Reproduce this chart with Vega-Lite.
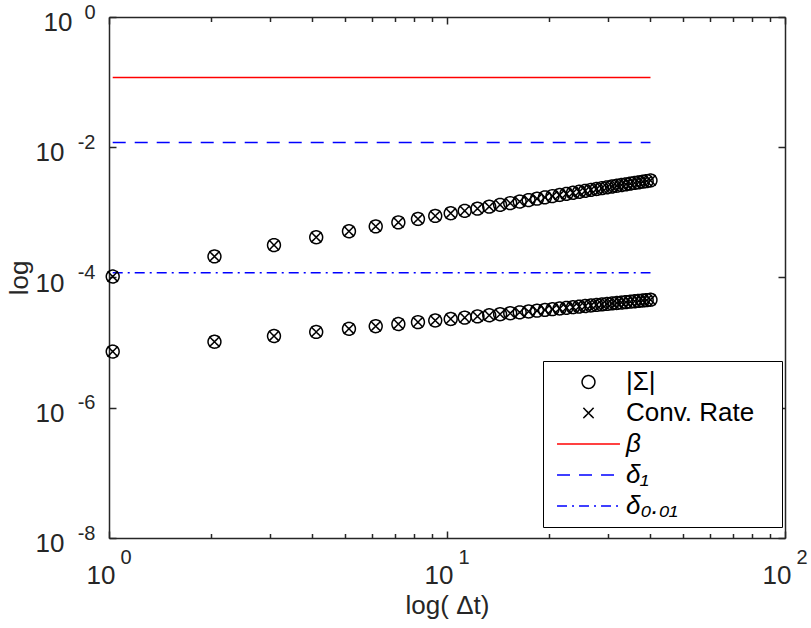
{
  "$schema": "https://vega.github.io/schema/vega-lite/v6.json",
  "width": 676,
  "height": 521,
  "autosize": {"type": "none"},
  "padding": {"left": 109, "top": 17, "right": 26, "bottom": 90},
  "background": "white",
  "config": {
    "view": {"stroke": null},
    "font": "Liberation Sans",
    "axis": {"grid": false, "labelFont": "Liberation Sans", "titleFont": "Liberation Sans", "labelColor": "#262626", "titleColor": "#262626", "domainColor": "#262626", "tickColor": "#262626", "domainWidth": 1.5, "tickWidth": 1.5, "labelFlush": false, "labelOverlap": false, "labelBound": false, "titleFontWeight": "normal"}
  },
  "datasets": {
    "lines": [
      {"x": 1.0256, "y": 0.118, "leg": "β"},
      {"x": 40.0, "y": 0.118, "leg": "β"},
      {"x": 1.0256, "y": 0.0118, "leg": "δ₁"},
      {"x": 40.0, "y": 0.0118, "leg": "δ₁"},
      {"x": 1.0256, "y": 0.000118, "leg": "δ₀.₀₁"},
      {"x": 40.0, "y": 0.000118, "leg": "δ₀.₀₁"}
    ],
    "pts": [
      {"x": 1.0256, "y": 0.0001035, "leg": ["|Σ|", "Conv. Rate"]},
      {"x": 2.0513, "y": 0.0002105, "leg": ["|Σ|", "Conv. Rate"]},
      {"x": 3.0769, "y": 0.0003143, "leg": ["|Σ|", "Conv. Rate"]},
      {"x": 4.1026, "y": 0.0004150, "leg": ["|Σ|", "Conv. Rate"]},
      {"x": 5.1282, "y": 0.0005128, "leg": ["|Σ|", "Conv. Rate"]},
      {"x": 6.1538, "y": 0.0006083, "leg": ["|Σ|", "Conv. Rate"]},
      {"x": 7.1795, "y": 0.0007015, "leg": ["|Σ|", "Conv. Rate"]},
      {"x": 8.2051, "y": 0.0007925, "leg": ["|Σ|", "Conv. Rate"]},
      {"x": 9.2308, "y": 0.0008819, "leg": ["|Σ|", "Conv. Rate"]},
      {"x": 10.256, "y": 0.0009696, "leg": ["|Σ|", "Conv. Rate"]},
      {"x": 11.282, "y": 0.0010558, "leg": ["|Σ|", "Conv. Rate"]},
      {"x": 12.308, "y": 0.0011404, "leg": ["|Σ|", "Conv. Rate"]},
      {"x": 13.333, "y": 0.0012238, "leg": ["|Σ|", "Conv. Rate"]},
      {"x": 14.359, "y": 0.0013058, "leg": ["|Σ|", "Conv. Rate"]},
      {"x": 15.385, "y": 0.0013870, "leg": ["|Σ|", "Conv. Rate"]},
      {"x": 16.410, "y": 0.0014668, "leg": ["|Σ|", "Conv. Rate"]},
      {"x": 17.436, "y": 0.0015456, "leg": ["|Σ|", "Conv. Rate"]},
      {"x": 18.462, "y": 0.0016234, "leg": ["|Σ|", "Conv. Rate"]},
      {"x": 19.487, "y": 0.0017003, "leg": ["|Σ|", "Conv. Rate"]},
      {"x": 20.513, "y": 0.0017763, "leg": ["|Σ|", "Conv. Rate"]},
      {"x": 21.538, "y": 0.0018515, "leg": ["|Σ|", "Conv. Rate"]},
      {"x": 22.564, "y": 0.0019259, "leg": ["|Σ|", "Conv. Rate"]},
      {"x": 23.590, "y": 0.0019995, "leg": ["|Σ|", "Conv. Rate"]},
      {"x": 24.615, "y": 0.0020723, "leg": ["|Σ|", "Conv. Rate"]},
      {"x": 25.641, "y": 0.0021444, "leg": ["|Σ|", "Conv. Rate"]},
      {"x": 26.667, "y": 0.0022157, "leg": ["|Σ|", "Conv. Rate"]},
      {"x": 27.692, "y": 0.0022865, "leg": ["|Σ|", "Conv. Rate"]},
      {"x": 28.718, "y": 0.0023566, "leg": ["|Σ|", "Conv. Rate"]},
      {"x": 29.744, "y": 0.0024260, "leg": ["|Σ|", "Conv. Rate"]},
      {"x": 30.769, "y": 0.0024949, "leg": ["|Σ|", "Conv. Rate"]},
      {"x": 31.795, "y": 0.0025631, "leg": ["|Σ|", "Conv. Rate"]},
      {"x": 32.821, "y": 0.0026308, "leg": ["|Σ|", "Conv. Rate"]},
      {"x": 33.846, "y": 0.0026978, "leg": ["|Σ|", "Conv. Rate"]},
      {"x": 34.872, "y": 0.0027644, "leg": ["|Σ|", "Conv. Rate"]},
      {"x": 35.897, "y": 0.0028305, "leg": ["|Σ|", "Conv. Rate"]},
      {"x": 36.923, "y": 0.0028961, "leg": ["|Σ|", "Conv. Rate"]},
      {"x": 37.949, "y": 0.0029612, "leg": ["|Σ|", "Conv. Rate"]},
      {"x": 38.974, "y": 0.0030258, "leg": ["|Σ|", "Conv. Rate"]},
      {"x": 40.0, "y": 0.0030900, "leg": ["|Σ|", "Conv. Rate"]},
      {"x": 1.0256, "y": 0.000007295, "leg": ["|Σ|", "Conv. Rate"]},
      {"x": 2.0513, "y": 0.000010317, "leg": ["|Σ|", "Conv. Rate"]},
      {"x": 3.0769, "y": 0.000012635, "leg": ["|Σ|", "Conv. Rate"]},
      {"x": 4.1026, "y": 0.000014590, "leg": ["|Σ|", "Conv. Rate"]},
      {"x": 5.1282, "y": 0.000016312, "leg": ["|Σ|", "Conv. Rate"]},
      {"x": 6.1538, "y": 0.000017869, "leg": ["|Σ|", "Conv. Rate"]},
      {"x": 7.1795, "y": 0.000019301, "leg": ["|Σ|", "Conv. Rate"]},
      {"x": 8.2051, "y": 0.000020633, "leg": ["|Σ|", "Conv. Rate"]},
      {"x": 9.2308, "y": 0.000021885, "leg": ["|Σ|", "Conv. Rate"]},
      {"x": 10.256, "y": 0.000023069, "leg": ["|Σ|", "Conv. Rate"]},
      {"x": 11.282, "y": 0.000024195, "leg": ["|Σ|", "Conv. Rate"]},
      {"x": 12.308, "y": 0.000025271, "leg": ["|Σ|", "Conv. Rate"]},
      {"x": 13.333, "y": 0.000026302, "leg": ["|Σ|", "Conv. Rate"]},
      {"x": 14.359, "y": 0.000027295, "leg": ["|Σ|", "Conv. Rate"]},
      {"x": 15.385, "y": 0.000028253, "leg": ["|Σ|", "Conv. Rate"]},
      {"x": 16.410, "y": 0.000029180, "leg": ["|Σ|", "Conv. Rate"]},
      {"x": 17.436, "y": 0.000030078, "leg": ["|Σ|", "Conv. Rate"]},
      {"x": 18.462, "y": 0.000030950, "leg": ["|Σ|", "Conv. Rate"]},
      {"x": 19.487, "y": 0.000031798, "leg": ["|Σ|", "Conv. Rate"]},
      {"x": 20.513, "y": 0.000032624, "leg": ["|Σ|", "Conv. Rate"]},
      {"x": 21.538, "y": 0.000033430, "leg": ["|Σ|", "Conv. Rate"]},
      {"x": 22.564, "y": 0.000034217, "leg": ["|Σ|", "Conv. Rate"]},
      {"x": 23.590, "y": 0.000034986, "leg": ["|Σ|", "Conv. Rate"]},
      {"x": 24.615, "y": 0.000035738, "leg": ["|Σ|", "Conv. Rate"]},
      {"x": 25.641, "y": 0.000036475, "leg": ["|Σ|", "Conv. Rate"]},
      {"x": 26.667, "y": 0.000037197, "leg": ["|Σ|", "Conv. Rate"]},
      {"x": 27.692, "y": 0.000037906, "leg": ["|Σ|", "Conv. Rate"]},
      {"x": 28.718, "y": 0.000038601, "leg": ["|Σ|", "Conv. Rate"]},
      {"x": 29.744, "y": 0.000039285, "leg": ["|Σ|", "Conv. Rate"]},
      {"x": 30.769, "y": 0.000039956, "leg": ["|Σ|", "Conv. Rate"]},
      {"x": 31.795, "y": 0.000040617, "leg": ["|Σ|", "Conv. Rate"]},
      {"x": 32.821, "y": 0.000041267, "leg": ["|Σ|", "Conv. Rate"]},
      {"x": 33.846, "y": 0.000041907, "leg": ["|Σ|", "Conv. Rate"]},
      {"x": 34.872, "y": 0.000042537, "leg": ["|Σ|", "Conv. Rate"]},
      {"x": 35.897, "y": 0.000043158, "leg": ["|Σ|", "Conv. Rate"]},
      {"x": 36.923, "y": 0.000043770, "leg": ["|Σ|", "Conv. Rate"]},
      {"x": 37.949, "y": 0.000044374, "leg": ["|Σ|", "Conv. Rate"]},
      {"x": 38.974, "y": 0.000044969, "leg": ["|Σ|", "Conv. Rate"]},
      {"x": 40.0, "y": 0.000045557, "leg": ["|Σ|", "Conv. Rate"]}
    ]
  },
  "layer": [
    {
      "data": {"name": "lines"},
      "transform": [{"filter": "datum.leg != 'δ₀.₀₁'"}],
      "mark": {"type": "line", "strokeWidth": 1.5},
      "encoding": {
        "x": {"field": "x", "type": "quantitative", "scale": {"type": "log", "domain": [1, 100], "nice": false},
          "axis": {"orient": "bottom", "values": [1,2,3,4,5,6,7,8,9,10,20,30,40,50,60,70,80,90,100],
            "labelExpr": "(datum.value == 1 || datum.value == 10 || datum.value == 100) ? '10' : ''",
            "tickSize": {"condition": {"test": "datum.value == 1 || datum.value == 10 || datum.value == 100", "value": -7}, "value": -4.5},
            "labelPadding": 52, "labelOffset": -8.5, "labelAlign": "center", "labelBaseline": "alphabetic", "labelFontSize": 26,
            "title": "log( Δt)", "titleFontSize": 26, "titlePadding": 2}},
        "y": {"field": "y", "type": "quantitative", "scale": {"type": "log", "domain": [1e-8, 1], "nice": false},
          "axis": {"orient": "left", "values": [1e-8, 1e-6, 1e-4, 1e-2, 1],
            "labelExpr": "datum.value >= 0.5 ? '' : '10'", "tickSize": -7,
            "labelPadding": 52,
            "labelAlign": "right", "labelBaseline": "middle", "labelOffset": 5.5, "labelFontSize": 26,
            "title": "log", "titleFontSize": 26, "titlePadding": 3}},
        "color": {"field": "leg", "type": "nominal",
          "scale": {"domain": ["|Σ|", "Conv. Rate", "β", "δ₁", "δ₀.₀₁"], "range": ["#000000", "#000000", "#ff0000", "#0000ff", "#0000ff"]},
          "legend": {"title": null, "orient": "none", "legendX": 434, "legendY": 344, "strokeColor": "#000000", "fillColor": "#ffffff", "padding": 8, "rowPadding": 5, "symbolOffset": 24.5, "labelOffset": 24.5, "symbolSize": 165, "symbolStrokeWidth": 1.5, "symbolFillColor": "transparent", "labelFont": "Liberation Sans", "labelFontSize": 26, "labelColor": "#000000", "labelLimit": 300,
            "labelExpr": "datum.label == 'Conv. Rate' ? 'Conv. Rate\u2800' : datum.label",
            "encode": {"labels": {"update": {"fontStyle": {"signal": "(datum.value == 'β' || datum.value == 'δ₁' || datum.value == 'δ₀.₀₁') ? 'italic' : 'normal'"}}}}}},
        "strokeDash": {"field": "leg", "type": "nominal",
          "scale": {"domain": ["|Σ|", "Conv. Rate", "β", "δ₁", "δ₀.₀₁"], "range": [[1, 0], [1, 0], [1, 0], [13, 9], [10, 5, 2, 5]]},
          "legend": {"title": null, "orient": "none", "legendX": 434, "legendY": 344}}
      }
    },
    {
      "data": {"name": "lines"},
      "transform": [{"filter": "datum.leg == 'δ₀.₀₁'"}],
      "mark": {"type": "line", "strokeWidth": 1.5},
      "encoding": {
        "x": {"field": "x", "type": "quantitative", "scale": {"type": "log", "domain": [1, 100], "nice": false},
          "axis": {"orient": "bottom", "values": [1, 10, 100], "labelExpr": "'' + round(log(datum.value) / LN10)",
            "ticks": false, "domain": false, "labelPadding": 25, "labelAlign": "left", "labelOffset": 11, "labelBaseline": "alphabetic", "labelFontSize": 20, "title": null}},
        "y": {"field": "y", "type": "quantitative", "scale": {"type": "log", "domain": [1e-8, 1], "nice": false},
          "axis": {"orient": "left", "values": [1e-8, 1e-6, 1e-4, 1e-2, 1], "labelExpr": "'' + round(log(datum.value) / LN10)",
            "ticks": false, "domain": false, "labelPadding": 14, "labelAlign": "right", "labelBaseline": "middle", "labelOffset": -5, "labelFontSize": 20, "title": null}},
        "color": {"field": "leg", "type": "nominal", "scale": {"domain": ["|Σ|", "Conv. Rate", "β", "δ₁", "δ₀.₀₁"], "range": ["#000000", "#000000", "#ff0000", "#0000ff", "#0000ff"]}},
        "strokeDash": {"field": "leg", "type": "nominal", "scale": {"domain": ["|Σ|", "Conv. Rate", "β", "δ₁", "δ₀.₀₁"], "range": [[1, 0], [1, 0], [1, 0], [13, 9], [10, 5, 2, 5]]}}
      }
    },
    {
      "data": {"name": "pts"},
      "transform": [{"flatten": ["leg"]}],
      "mark": {"type": "point", "filled": false, "strokeWidth": 1.5, "size": 165, "opacity": 1},
      "encoding": {
        "x": {"field": "x", "type": "quantitative", "scale": {"type": "log", "domain": [1, 100], "nice": false},
          "axis": {"orient": "top", "values": [1,2,3,4,5,6,7,8,9,10,20,30,40,50,60,70,80,90,100], "labels": false,
            "tickSize": {"condition": {"test": "datum.value == 1 || datum.value == 10 || datum.value == 100", "value": -7}, "value": -4.5}, "title": null}},
        "y": {"field": "y", "type": "quantitative", "scale": {"type": "log", "domain": [1e-8, 1], "nice": false},
          "axis": {"orient": "right", "values": [1e-8, 1e-6, 1e-4, 1e-2, 1], "labels": false, "tickSize": -7, "title": null}},
        "color": {"field": "leg", "type": "nominal", "scale": {"domain": ["|Σ|", "Conv. Rate", "β", "δ₁", "δ₀.₀₁"], "range": ["#000000", "#000000", "#ff0000", "#0000ff", "#0000ff"]}},
        "shape": {"field": "leg", "type": "nominal",
          "scale": {"domain": ["|Σ|", "Conv. Rate", "β", "δ₁", "δ₀.₀₁"], "range": ["circle", "M-0.8,-0.8L0.8,0.8M0.8,-0.8L-0.8,0.8", "M-4.9,0L4.9,0", "M-4.9,0L4.9,0", "M-4.9,0L4.9,0"]},
          "legend": {"title": null, "orient": "none", "legendX": 434, "legendY": 344}},
        "strokeDash": {"field": "leg", "type": "nominal", "scale": {"domain": ["|Σ|", "Conv. Rate", "β", "δ₁", "δ₀.₀₁"], "range": [[1, 0], [1, 0], [1, 0], [13, 9], [10, 5, 2, 5]]}}
      }
    },
    {
      "data": {"name": "lines"},
      "transform": [{"filter": "false"}],
      "mark": {"type": "line", "strokeWidth": 1.5},
      "encoding": {
        "x": {"field": "x", "type": "quantitative", "scale": {"type": "log", "domain": [1, 100], "nice": false}, "axis": null},
        "y": {"field": "y", "type": "quantitative", "scale": {"type": "log", "domain": [1e-8, 1], "nice": false},
          "axis": {"orient": "left", "values": [1], "labelExpr": "'10'", "ticks": false, "domain": false,
            "labelPadding": 37, "labelAlign": "right", "labelBaseline": "middle", "labelOffset": 5.5, "labelFontSize": 26, "title": null}}
      }
    }
  ],
  "resolve": {"axis": {"x": "independent", "y": "independent"}}
}
